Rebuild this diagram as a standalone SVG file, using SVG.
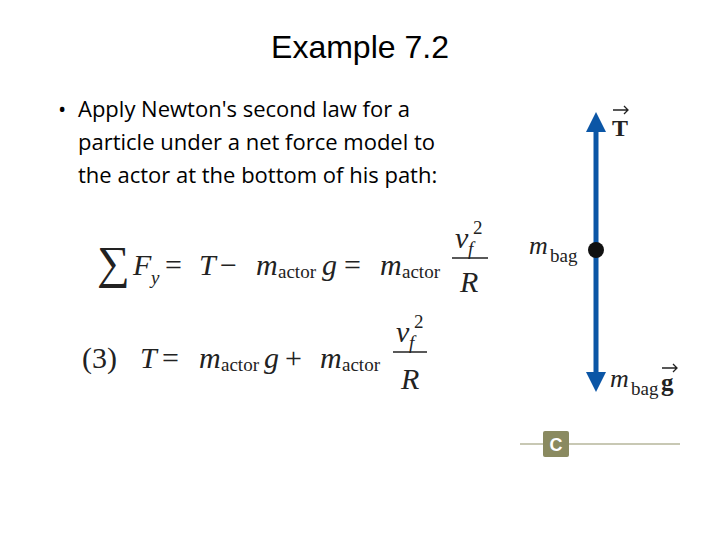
<svg xmlns="http://www.w3.org/2000/svg" width="720" height="540" viewBox="0 0 720 540">
<style>
.t{font-family:"Liberation Sans",Arial,sans-serif;fill:#000}
.b{font-family:"Open Sans","Liberation Sans",sans-serif;font-size:22px;fill:#000}
.m{font-family:"Liberation Serif","Times New Roman",serif;font-size:30px;fill:#222}
.i{font-style:italic}
.s{font-size:19px}
.bo{font-weight:bold}
</style>
<defs>
<marker id="ah" viewBox="0 0 10 10" refX="5" refY="5" markerWidth="4" markerHeight="5" orient="auto"><path d="M0,0 L10,5 L0,10 Z" fill="#0b56a6"/></marker>
</defs>
<rect width="720" height="540" fill="#fff"/>
<text class="t" x="360" y="58" font-size="32" text-anchor="middle">Example 7.2</text>
<text class="b" x="58" y="117">•</text>
<text class="b" x="78" y="117">Apply Newton's second law for a</text>
<text class="b" x="78" y="150">particle under a net force model to</text>
<text class="b" x="78" y="183">the actor at the bottom of his path:</text>
<g id="eq1">
<text class="m" x="97" y="278" style="font-size:46px">∑</text>
<text class="m i" x="133" y="275">F</text><text class="m i s" x="151" y="284">y</text>
<text class="m" x="165" y="275">=</text>
<text class="m i" x="199" y="275">T</text><text class="m" x="220" y="275">−</text>
<text class="m i" x="256" y="275">m</text><text class="m s" x="278" y="278">actor</text><text class="m i" x="322" y="275">g</text>
<text class="m" x="344" y="275">=</text>
<text class="m i" x="380" y="275">m</text><text class="m s" x="402" y="278">actor</text>
<line x1="452" y1="258" x2="488" y2="258" stroke="#222" stroke-width="1.5"/>
<text class="m i" x="455" y="248">v</text><text class="m i s" x="468" y="255">f</text><text class="m s" x="473" y="234">2</text>
<text class="m i" x="460" y="292">R</text>
</g>
<g id="eq2">
<text class="m" x="82" y="368">(3)</text>
<text class="m i" x="140" y="368">T</text><text class="m" x="162" y="368">=</text>
<text class="m i" x="199" y="368">m</text><text class="m s" x="221" y="371">actor</text><text class="m i" x="264" y="368">g</text>
<text class="m" x="285" y="368">+</text>
<text class="m i" x="320" y="368">m</text><text class="m s" x="342" y="371">actor</text>
<line x1="393" y1="352" x2="427" y2="352" stroke="#222" stroke-width="1.5"/>
<text class="m i" x="396" y="342">v</text><text class="m i s" x="409" y="349">f</text><text class="m s" x="414" y="328">2</text>
<text class="m i" x="401" y="389">R</text>
</g>
<g id="connectors">
<line x1="596" y1="250" x2="596" y2="122" stroke="#0b56a6" stroke-width="5" marker-end="url(#ah)"/>
<line x1="596" y1="250" x2="596" y2="382" stroke="#0b56a6" stroke-width="5" marker-end="url(#ah)"/>
</g>
<g id="bag">
<circle cx="596" cy="250" r="8" fill="#111"/>
<text class="m i" x="529" y="254" style="font-size:26px">m</text><text class="m" x="550" y="262" style="font-size:19px">bag</text>
</g>
<g id="T">
<text class="m bo" x="612" y="136" style="font-size:24px">T</text>
<path d="M613,110 L628,110 M624,106 L628,110 L624,114" stroke="#222" stroke-width="1.3" fill="none"/>
</g>
<g id="mg">
<text class="m i" x="610" y="387" style="font-size:26px">m</text><text class="m" x="631" y="395" style="font-size:19px">bag</text><text class="m bo" x="661" y="391" style="font-size:25px">g</text>
<path d="M662,368 L677,368 M673,364 L677,368 L673,372" stroke="#222" stroke-width="1.3" fill="none"/>
</g>
<g id="label">
<line x1="520" y1="444" x2="680" y2="444" stroke="#c8c8b4" stroke-width="2"/>
<rect x="543" y="431" width="26" height="26" rx="2" fill="#8a8a60"/>
<text class="t" x="556" y="451" font-size="18" text-anchor="middle" font-weight="bold" style="fill:#fff">C</text>
</g>
</svg>
